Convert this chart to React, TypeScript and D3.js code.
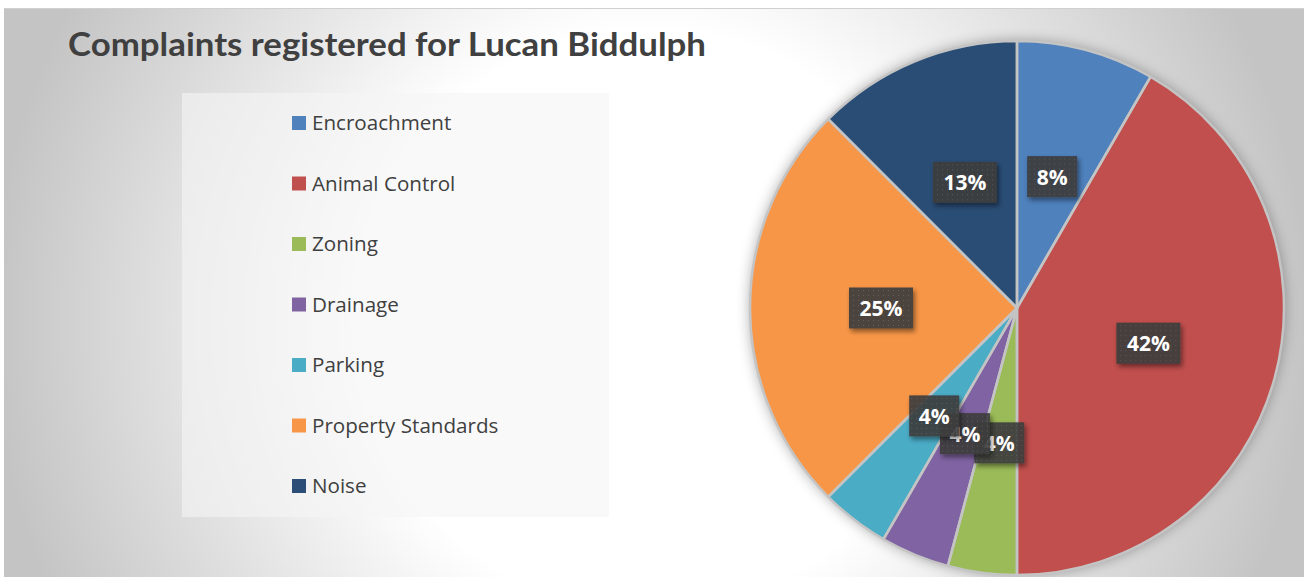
import React from "react";
import * as d3 from "d3";

const categories = ["Encroachment", "Animal Control", "Zoning", "Drainage", "Parking", "Property Standards", "Noise"];
const counts = [2, 10, 1, 1, 1, 6, 3];
const colors = ["#4f81bd", "#c0504d", "#9bbb59", "#8064a2", "#4bacc6", "#f79646", "#2c4d75"];
const title = "Complaints registered for Lucan Biddulph";

const W = 1304;
const H = 577;

export default function App() {
  const cx = 1017;
  const cy = 308;
  const r = 267;
  const total = d3.sum(counts);
  const pie = d3.pie<number>().sort(null).value((d) => d);
  const arcs = pie(counts);
  const arc = d3.arc<d3.PieArcDatum<number>>().innerRadius(0).outerRadius(r);
  const labelArc = d3.arc<d3.PieArcDatum<number>>().innerRadius(136).outerRadius(136);
  const fmt = (v: number) => `${Math.round((v / total) * 100)}%`;

  const legendY = d3.scalePoint<string>().domain(categories).range([123, 486]);

  return (
    <svg width={W} height={H} style={{ position: "absolute", left: 0, top: 0 }} fontFamily="'Open Sans', sans-serif">
      <defs>
        <radialGradient id="bg" gradientUnits="userSpaceOnUse" cx={650} cy={320} r={660}>
          <stop offset="0" stopColor="#ffffff" />
          <stop offset="0.44" stopColor="#ffffff" />
          <stop offset="1" stopColor="#c4c4c4" />
        </radialGradient>
        <filter id="pieShadow" x="-20%" y="-20%" width="140%" height="140%">
          <feDropShadow dx="0" dy="0" stdDeviation="7" floodColor="#000" floodOpacity="0.35" />
        </filter>
        <filter id="lblShadow" x="-30%" y="-30%" width="160%" height="170%">
          <feDropShadow dx="2" dy="3" stdDeviation="2.5" floodColor="#000" floodOpacity="0.5" />
        </filter>
        <pattern id="dots" width="5" height="5" patternUnits="userSpaceOnUse">
          <rect width="5" height="5" fill="#3c3c3c" />
          <rect x="2" y="2" width="1" height="1" fill="#5a5a5a" />
        </pattern>
      </defs>
      <rect x={0} y={0} width={W} height={H} fill="#ffffff" />
      <rect x={4} y={8} width={W - 4} height={H - 8} fill="url(#bg)" />
      <line x1={4} x2={W} y1={8.5} y2={8.5} stroke="#d0d0d0" strokeWidth={1} />

      <text x={68} y={56} fontFamily="Lato, sans-serif" fontSize={33} fontWeight={700} fill="#404040" textLength={638} lengthAdjust="spacingAndGlyphs">
        {title}
      </text>

      <rect x={182} y={93} width={427} height={424} fill="#f5f5f5" opacity={0.6} />
      {categories.map((c, i) => (
        <g key={c} transform={`translate(0,${legendY(c)})`}>
          <rect x={292} y={-7} width={14} height={14} fill={colors[i]} />
          <text x={312} y={7} fontSize={20.6} fill="#404040">
            {c}
          </text>
        </g>
      ))}

      <g transform={`translate(${cx},${cy})`}>
        <g filter="url(#pieShadow)">
          {arcs.map((a, i) => (
            <path key={i} d={arc(a) || ""} fill={colors[i]} />
          ))}
        </g>
        {arcs.map((a, i) => (
          <path key={"s" + i} d={arc(a) || ""} fill="none" stroke="#c4c4c4" strokeWidth={2.5} strokeLinejoin="round" />
        ))}
        {arcs.map((a, i) => {
          const [lx, ly] = labelArc.centroid(a);
          const t = fmt(a.data);
          const w = 22 + 14 * t.length;
          const h = 41;
          return (
            <g key={"l" + i} transform={`translate(${lx},${ly})`}>
              <rect x={-w / 2} y={-h / 2} width={w} height={h} fill="url(#dots)" opacity={0.92} filter="url(#lblShadow)" />
              <text x={0} y={8} textAnchor="middle" fontSize={21} fontWeight={700} fill="#ffffff">
                {t}
              </text>
            </g>
          );
        })}
      </g>
    </svg>
  );
}
